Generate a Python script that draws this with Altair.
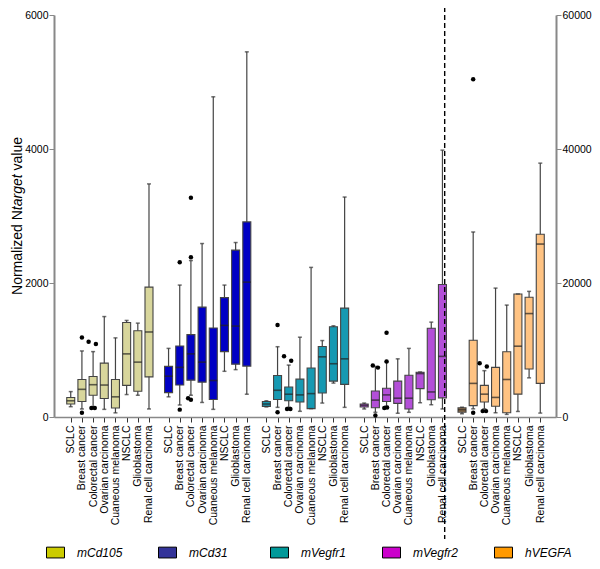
import altair as alt
import pandas as pd

groups = ["mCd105", "mCd31", "mVegfr1", "mVegfr2", "hVEGFA"]
categories = ["SCLC", "Breast cancer", "Colorectal cancer", "Ovarian carcinoma",
              "Cuaneous melanoma", "NSCLC", "Glioblastoma", "Renal cell carcinoma"]

# whisker low, Q1, median, Q3, whisker high (one value per category)
mcd105_low = [154, 120, 144, 114, 62, 335, 325, 120]
mcd105_q1 = [194, 232, 325, 276, 135, 472, 384, 599]
mcd105_med = [242, 413, 482, 477, 301, 942, 819, 1269]
mcd105_q3 = [291, 560, 604, 804, 560, 1411, 1288, 1939]
mcd105_high = [379, 986, 976, 1499, 1181, 1441, 1401, 3479]

mcd31_low = [301, 179, 325, 217, 114, 682, 707, 340]
mcd31_q1 = [364, 477, 550, 521, 261, 976, 789, 760]
mcd31_med = [609, 741, 942, 819, 545, 1367, 1357, 2013]
mcd31_q3 = [755, 1059, 1229, 1640, 1328, 1782, 2491, 2912]
mcd31_high = [1024, 1969, 2335, 2589, 4779, 1969, 2604, 5450]

mvegfr1_low = [150, 144, 144, 85, 125, 208, 506, 144]
mvegfr1_q1 = [158, 261, 242, 223, 125, 359, 535, 487]
mvegfr1_med = [194, 399, 340, 330, 349, 898, 795, 868]
mvegfr1_q3 = [232, 619, 447, 565, 731, 1053, 1347, 1625]
mvegfr1_high = [242, 1049, 775, 1191, 2233, 1141, 1361, 3283]

mvegfr2_low = [120, 70, 165, 56, 70, 213, 183, 120]
mvegfr2_q1 = [149, 139, 232, 203, 120, 423, 257, 286]
mvegfr2_med = [174, 252, 330, 281, 281, 648, 374, 905]
mvegfr2_q3 = [194, 389, 428, 535, 623, 668, 1325, 1978]
mvegfr2_high = [208, 755, 819, 868, 1024, 672, 1416, 3983]

hvegfa_low = [487, 1218, 1218, 633, 390, 828, 5844, 584]
hvegfa_q1 = [730, 1705, 2240, 1607, 633, 3409, 7159, 5016]
hvegfa_med = [1071, 5016, 3409, 2922, 5600, 10568, 15438, 25811]
hvegfa_q3 = [1364, 11445, 4724, 7402, 9740, 18360, 17873, 27272]
hvegfa_high = [1461, 27613, 6915, 19237, 16704, 18360, 18750, 37889]

# outliers: group index, category index, value, side-by-side slot
outlier_group = [0, 0, 0, 0, 0, 0,
                 1, 1, 1, 1, 1, 1,
                 2, 2, 2, 2, 2, 2,
                 3, 3, 3, 3, 3, 3, 3,
                 4, 4, 4, 4, 4, 4]
outlier_cat = [1, 1, 2, 2, 2, 2,
               1, 1, 2, 2, 2, 2,
               1, 1, 2, 2, 2, 2,
               1, 1, 1, 2, 2, 2, 2,
               1, 1, 2, 2, 2, 2]
outlier_value = [1186, 62, 1122, 1088, 135, 135,
                 2311, 110, 3274, 2384, 279, 258,
                 1372, 70, 907, 839, 120, 120,
                 770, 737, 22, 1259, 829, 135, 140,
                 50405, 633, 8036, 7549, 877, 877]
outlier_slot = [0, 0, -0.4, 0.25, -0.15, 0.15,
                0, 0, 0, 0, -0.25, 0,
                0, 0, -0.42, 0.22, -0.15, 0.15,
                -0.23, 0.23, 0, 0, 0, -0.2, 0.05,
                0, 0, -0.42, 0.22, -0.15, 0.15]

left_ticks = [0, 2000, 4000, 6000]
right_ticks = [0, 20000, 40000, 60000]
title_parts = ["Normalized N", "target", "value"]   # middle part is italic

# ---- styles / layout ----
GROUP_STEP = 8.75
W, H = 502, 402
PAD = {"left": 46, "top": 7, "right": 36, "bottom": 144}
box_fill = {"mCd105": "#d8d69c", "mCd31": "#0000c4", "mVegfr1": "#1699b2",
            "mVegfr2": "#b34fd8", "hVEGFA": "#ffc383"}
sclc_hvegfa_fill = "#a97c4c"
legend_colors = ["#cccc00", "#333399", "#009999", "#cc00cc", "#ff9900"]
FONT = "Liberation Sans"
TITLE_FS = 14
# Liberation Sans advance widths (em) for laying the title pieces end to end
ADV = {"N": .722, "o": .556, "r": .333, "m": .833, "a": .556, "l": .222, "i": .222,
       "z": .5, "e": .556, "d": .556, " ": .278, "t": .278, "g": .556, "v": .5, "u": .556}


def text_w(s):
    return sum(ADV.get(ch, .556) for ch in s) * TITLE_FS


stats = {
    "mCd105": (mcd105_low, mcd105_q1, mcd105_med, mcd105_q3, mcd105_high),
    "mCd31": (mcd31_low, mcd31_q1, mcd31_med, mcd31_q3, mcd31_high),
    "mVegfr1": (mvegfr1_low, mvegfr1_q1, mvegfr1_med, mvegfr1_q3, mvegfr1_high),
    "mVegfr2": (mvegfr2_low, mvegfr2_q1, mvegfr2_med, mvegfr2_q3, mvegfr2_high),
    "hVEGFA": (hvegfa_low, hvegfa_q1, hvegfa_med, hvegfa_q3, hvegfa_high),
}

rows = []
for gi, g in enumerate(groups):
    lo, q1, md, q3, hi = stats[g]
    for ci, c in enumerate(categories):
        fill = box_fill[g]
        if g == "hVEGFA" and ci == 0:
            fill = sclc_hvegfa_fill
        rows.append(dict(group=g, cat=c, pos=gi * GROUP_STEP + ci, low=lo[ci], q1=q1[ci],
                         med=md[ci], q3=q3[ci], high=hi[ci], fill=fill))
box_df = pd.DataFrame(rows)

out_df = pd.DataFrame(dict(
    group=[groups[i] for i in outlier_group],
    ox=[gi * GROUP_STEP + ci + s for gi, ci, s in zip(outlier_group, outlier_cat, outlier_slot)],
    value=outlier_value,
))

positions = [gi * GROUP_STEP + ci for gi in range(len(groups)) for ci in range(len(categories))]
cats_js = "[" + ",".join("'" + c + "'" for c in categories) + "]"
label_expr = f"{cats_js}[round(datum.value % {GROUP_STEP})]"

x_scale = alt.Scale(domain=[-1.05, 4 * GROUP_STEP + 7 + 0.96], nice=False, zero=False)
x_axis = alt.Axis(values=positions, labelExpr=label_expr, title=None, labelAngle=270,
                  labelFontSize=10.5, labelPadding=3, tickSize=5, tickColor="#333",
                  domainColor="#888", domainWidth=1.5, labelOverlap=False, grid=False)


def box_layers(bdf, odf, y_scale, y_axis):
    X = alt.X("pos:Q", scale=x_scale, axis=x_axis)
    base = alt.Chart(bdf).encode(x=X)
    whisk = base.mark_rule(color="#444", strokeWidth=1.2).encode(
        y=alt.Y("low:Q", scale=y_scale, axis=y_axis), y2="high:Q")
    box = base.mark_bar(size=8, stroke="#444", strokeWidth=1.1).encode(
        y="q1:Q", y2="q3:Q", fill=alt.Fill("fill:N", scale=None))
    med = base.mark_tick(orient="horizontal", size=8, thickness=1.6, color="#222").encode(y="med:Q")
    cap_lo = base.mark_tick(orient="horizontal", size=4, thickness=1.5, color="#333").encode(y="low:Q")
    cap_hi = base.mark_tick(orient="horizontal", size=4, thickness=1.5, color="#333").encode(y="high:Q")
    outl = alt.Chart(odf).mark_circle(size=20, color="black", opacity=1).encode(
        x=alt.X("ox:Q", scale=x_scale, axis=x_axis), y="value:Q")
    return [whisk, box, med, cap_lo, cap_hi, outl]


left_axis = alt.Axis(values=left_ticks, format="d", title=None,
                     labelFontSize=10.5, tickSize=5, tickColor="#888", domainColor="#888",
                     domainWidth=2, grid=False, labelPadding=1)
right_axis = alt.Axis(values=right_ticks, format="d", title=None, orient="right",
                      labelFontSize=10.5, tickSize=5, tickColor="#888", domainColor="#888",
                      domainWidth=2, grid=False, labelPadding=1)

left_layers = box_layers(box_df[box_df.group != "hVEGFA"], out_df[out_df.group != "hVEGFA"],
                         alt.Scale(domain=[0, 6000], nice=False), left_axis)
right_layers = box_layers(box_df[box_df.group == "hVEGFA"], out_df[out_df.group == "hVEGFA"],
                          alt.Scale(domain=[0, 60000], nice=False), right_axis)

divider_df = pd.DataFrame(dict(pos=[3 * GROUP_STEP + 7.2]))
divider = alt.Chart(divider_df).mark_rule(color="black", strokeWidth=1.4, strokeDash=[5, 3]).encode(
    x=alt.X("pos:Q", scale=x_scale, axis=x_axis), y=alt.value(-8), y2=alt.value(H + 122))

legend_df = pd.DataFrame(dict(group=groups, pos=[0] * 5, value=[0] * 5))
legend_layer = alt.Chart(legend_df).mark_point(filled=True, opacity=0).encode(
    x=alt.X("pos:Q", scale=x_scale, axis=x_axis), y="value:Q",
    color=alt.Color("group:N", scale=alt.Scale(domain=groups, range=legend_colors),
                    legend=alt.Legend(orient="none", legendX=-8, legendY=H + 126,
                                      direction="horizontal", title=None,
                                      symbolType="M-1,-0.6H1V0.6H-1Z", symbolSize=324,
                                      symbolStrokeColor="black", symbolStrokeWidth=1,
                                      symbolOpacity=1, labelFontSize=12,
                                      labelFontStyle="italic", labelOffset=12,
                                      columnPadding=32, gridAlign="all", labelColor="black")))

# y-axis title laid out as three rotated text pieces (middle one italic)
gap = ADV[" "] * TITLE_FS
total = text_w(title_parts[0]) + text_w(title_parts[1]) + gap + text_w(title_parts[2])
y_start = H / 2 + total / 2
offsets = [0, text_w(title_parts[0]), text_w(title_parts[0]) + text_w(title_parts[1]) + gap]
title_x = -32.5
one = pd.DataFrame({"k": [0]})
title_layers = []
for part, off, style in zip(title_parts, offsets, ["normal", "italic", "normal"]):
    title_layers.append(
        alt.Chart(one).mark_text(angle=270, align="left", baseline="alphabetic",
                                 fontSize=TITLE_FS, fontStyle=style, color="black", font=FONT)
        .encode(x=alt.value(title_x), y=alt.value(y_start - off), text=alt.value(part)))

left = alt.layer(*left_layers, legend_layer, divider, *title_layers)
right = alt.layer(*right_layers)

chart = alt.layer(left, right).resolve_scale(y="independent").properties(
    width=W, height=H, autosize=alt.AutoSizeParams(type="none"), padding=PAD
).configure(font=FONT).configure_view(strokeWidth=0).configure_axis(
    labelColor="black", labelFont=FONT, titleFont=FONT
).configure_legend(labelFont=FONT)

chart.save("out.html", embed_options={"renderer": "svg", "actions": False})
